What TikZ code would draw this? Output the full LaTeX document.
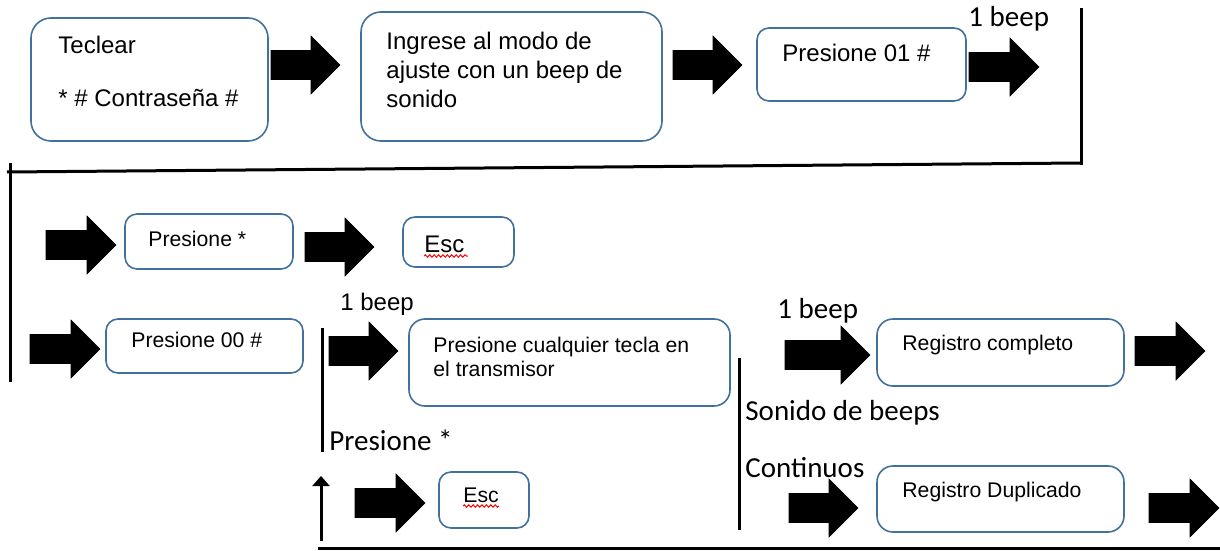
\documentclass[tikz,border=0pt]{standalone}
\usepackage{fontspec}
\setmainfont{Liberation Sans}
\newfontfamily\calib{Carlito}
\usetikzlibrary{fit,arrows.meta,decorations.pathmorphing}
\definecolor{boxblue}{RGB}{65,113,156}
\newcommand\blockarr[3]{\fill[blockarrow] (#1,#2-14.5) -- (#3-29,#2-14.5) -- (#3-29,#2-29) -- (#3,#2) -- (#3-29,#2+29) -- (#3-29,#2+14.5) -- (#1,#2+14.5) -- cycle;}
\begin{document}
\begin{tikzpicture}[x=0.5pt,y=-0.5pt,
  box/.style={draw=boxblue, line width=0.8pt, rounded corners=6pt, inner sep=0pt, fill=white},
  bigbox/.style={box, rounded corners=10pt},
  txt/.style={anchor=base west, inner sep=0pt, text=black, font=\fontsize{12}{14}\selectfont},
  stxt/.style={txt, font=\fontsize{10.6}{12.5}\selectfont},
  lbl/.style={anchor=base west, inner sep=0pt, text=black, font=\calib\fontsize{14.5}{17}\selectfont},
  rule/.style={line width=1.5pt, black},
  blockarrow/.style={fill=black, draw=black, line width=0.3pt},
  squiggle/.style={red, line width=0.5pt, decorate, decoration={snake, amplitude=0.6pt, segment length=2.2pt}}
]
\useasboundingbox (0,0) rectangle (1220,551);

% boxes
\node[bigbox, fit={(31,18) (268,141)}] (A) {};
\node[bigbox, fit={(361,12) (662,141)}] (B) {};
\node[box, fit={(757,28) (966,101)}] (C) {};
\node[box, fit={(125,214) (293,269)}] (D) {};
\node[box, fit={(403,217) (514,267)}] (E) {};
\node[box, fit={(106,319) (303,373)}] (F) {};
\node[box, rounded corners=8pt, fit={(409,319) (730,406)}] (G) {};
\node[box, fit={(439,472) (529,528)}] (H) {};
\node[box, rounded corners=8pt, fit={(877,319) (1124,386)}] (I) {};
\node[box, rounded corners=8pt, fit={(877,466) (1124,532)}] (J) {};

% box texts
\node[txt] (tA1) at (58,54) {Teclear};
\node[txt] (tA2) at (58,106) {* \# Contraseña \#};
\node[txt] (tB1) at (386,50) {Ingrese al modo de};
\node[txt] (tB2) at (386,79) {ajuste con un beep de};
\node[txt] (tB3) at (386,108) {sonido};
\node[txt] (tC) at (782,62) {Presione 01 \#};
\node[stxt] (tD) at (148,246) {Presione *};
\node[txt] (tE) at (424,252) {Esc};
\node[stxt] (tF) at (131,347) {Presione 00 \#};
\node[stxt] (tG1) at (433,352) {Presione cualquier tecla en};
\node[stxt] (tG2) at (433,376) {el transmisor};
\node[stxt] (tH) at (463,502) {Esc};
\node[stxt] (tI) at (902,350) {Registro completo};
\node[stxt] (tJ) at (902,497) {Registro Duplicado};

% spell-check underlines
\draw[squiggle] (tE.base west) ++(0,4) -- ++(44,0);
\draw[squiggle] (tH.base west) ++(0,4) -- ++(36,0);

% labels
\node[lbl] (l1) at (968,27) {1 beep};
\node[txt] (l2) at (340,310) {1 beep};
\node[lbl] (l3) at (329,450) {Presione *};
\node[lbl] (l4) at (777,318) {1 beep};
\node[lbl] (l5) at (745,420) {Sonido de beeps};
\node[lbl] (l6) at (745,477) {Continuos};

% rules
\draw[rule] (1081,8) -- (1081,165);
\draw[rule] (7,172) -- (1081,163);
\draw[rule] (10,163) -- (10,382);
\draw[rule] (322,328) -- (322,452);
\draw[rule] (739,358) -- (739,530);
\draw[rule] (318,548) -- (1220,548);
\draw[rule, -{Triangle[width=8.5pt,length=5pt]}] (321,541) -- (321,476);

% block arrows
\blockarr{271}{65}{340}
\blockarr{673}{65}{742}
\blockarr{969}{67}{1039}
\blockarr{46}{245}{116}
\blockarr{305}{247}{374}
\blockarr{30}{349}{100}
\blockarr{329}{351}{398}
\blockarr{355}{503}{425}
\blockarr{785}{355}{870}
\blockarr{1135}{351}{1205}
\blockarr{789}{508}{858}
\blockarr{1149}{508}{1219}
\end{tikzpicture}
\end{document}
